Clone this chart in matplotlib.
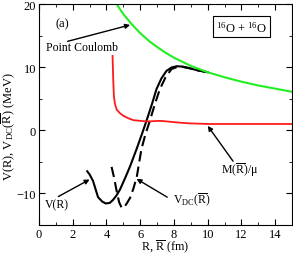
import numpy as np
import matplotlib
matplotlib.use("Agg")
import matplotlib.pyplot as plt

plt.rcParams["font.family"] = ["Liberation Serif", "DejaVu Serif"]
plt.rcParams["mathtext.fontset"] = "custom"
plt.rcParams["mathtext.rm"] = "Liberation Serif"
plt.rcParams["mathtext.it"] = "Liberation Serif:italic"

# point Coulomb (green)
r_coul = [4.6, 5.0, 5.5, 6.0, 6.5, 7.0, 7.5, 8.0, 9.0, 10.0, 11.0, 12.0, 13.0, 14.0, 15.0]
v_coul = [20.0, 18.4, 16.8, 15.4, 14.2, 13.2, 12.3, 11.5, 10.2, 9.2, 8.4, 7.7, 7.1, 6.6, 6.1]

# V(R), solid black
r_v = [2.86, 3.0, 3.2, 3.5, 3.75, 3.96, 4.2, 4.4, 4.6, 4.8, 5.1, 5.4, 5.78, 6.1, 6.37, 6.7, 6.96,
       7.25, 7.55, 7.85, 8.15, 8.5, 8.9, 9.4, 10.0]
v_v = [-6.5, -7.0, -8.0, -10.6, -11.3, -11.6, -11.5, -11.0, -10.3, -9.4, -7.6, -5.7, -3.0, -0.6, 1.5,
       4.2, 6.5, 8.2, 9.4, 9.95, 10.15, 10.1, 9.85, 9.5, 9.2]

# V_DC(Rbar), dashed black
r_vdc = [4.3, 4.45, 4.6, 4.75, 4.9, 5.05, 5.2, 5.4, 5.6, 5.8, 6.07, 6.3, 6.57, 6.85, 7.16, 7.5,
         7.85, 8.15, 8.5, 8.9, 9.4, 10.0]
v_vdc = [-5.8, -7.5, -9.6, -11.4, -12.3, -12.2, -11.6, -10.7, -9.2, -7.3, -3.0, -0.7, 1.5, 4.0,
         6.5, 8.4, 9.7, 10.0, 10.05, 9.85, 9.5, 9.2]

# M(Rbar)/mu, red
r_m = [4.36, 4.4, 4.44, 4.5, 4.6, 4.8, 5.0, 5.3, 5.6, 6.0, 6.4, 6.8, 7.2, 7.6, 7.95, 8.4, 8.9,
       9.5, 10.0, 11.0, 12.0, 13.0, 14.0, 15.0]
v_m = [11.8, 8.0, 5.4, 4.2, 3.3, 2.7, 2.3, 1.9, 1.6, 1.5, 1.4, 1.45, 1.5, 1.4, 1.3, 1.2, 1.1,
       1.05, 1.0, 1.0, 1.0, 1.0, 1.0, 1.0]

fig = plt.figure(figsize=(2.93, 2.55), dpi=100)
ax = fig.add_axes([0.133, 0.114, 0.864, 0.866])

ax.plot(r_v, v_v, color="k", lw=1.5)
ax.plot(r_vdc, v_vdc, color="k", lw=1.5, ls=(0, (5, 2.5)))
ax.plot(r_m, v_m, color="#ff1a1a", lw=1.3)
ax.plot(r_coul, v_coul, color="#22ee22", lw=1.5)

ax.set_xlim(0, 15)
ax.set_ylim(-15, 20)
ax.set_xticks(np.arange(0, 15, 2))
ax.set_xticks(np.arange(0, 16, 1), minor=True)
ax.set_yticks([-10, 0, 10, 20])
ax.set_yticks(np.arange(-15, 21, 5), minor=True)
ax.tick_params(which="both", direction="in", top=True, right=True, labelsize=9, pad=2)
ax.tick_params(which="major", length=4)
ax.tick_params(which="minor", length=2)
ax.set_xlabel(r"R, $\overline{\mathrm{R}}$ (fm)", fontsize=8.7)
ax.set_ylabel(r"V(R), V$_{\mathrm{DC}}$($\overline{\mathrm{R}}$) (MeV)", fontsize=9)
ax.xaxis.set_label_coords(0.5, -0.057)
ax.yaxis.set_label_coords(-0.087, 0.45)

ax.text(1.36, 17.0, "(a)", fontsize=9, ha="center", va="center")
ax.text(12.0, 16.4, r"$^{16}$O + $^{16}$O", fontsize=9, ha="center", va="center",
        bbox=dict(boxstyle="square,pad=0.25", fc="white", ec="k", lw=0.8))

arrow = dict(arrowstyle="-|>", color="k", lw=1.0, mutation_scale=7, shrinkA=0, shrinkB=0)
ax.annotate("", xy=(5.4, 16.7), xytext=(1.7, 14.1), arrowprops=arrow)
ax.text(0.4, 13.2, "Point Coulomb", fontsize=8.5, ha="left", va="center")
ax.annotate("", xy=(3.0, -7.8), xytext=(1.15, -10.5), arrowprops=arrow)
ax.text(1.06, -11.8, "V(R)", fontsize=8.5, ha="center", va="center")
ax.annotate("", xy=(5.78, -7.7), xytext=(7.6, -10.6), arrowprops=arrow)
ax.text(9.05, -11.0, r"V$_{\mathrm{DC}}$($\overline{\mathrm{R}}$)", fontsize=8.5, ha="center", va="center")
ax.annotate("", xy=(10.0, 0.7), xytext=(11.5, -4.9), arrowprops=arrow)
ax.text(11.9, -6.2, r"M($\overline{\mathrm{R}}$)/μ", fontsize=8.5, ha="center", va="center")

fig.savefig("out.png", dpi=100)
